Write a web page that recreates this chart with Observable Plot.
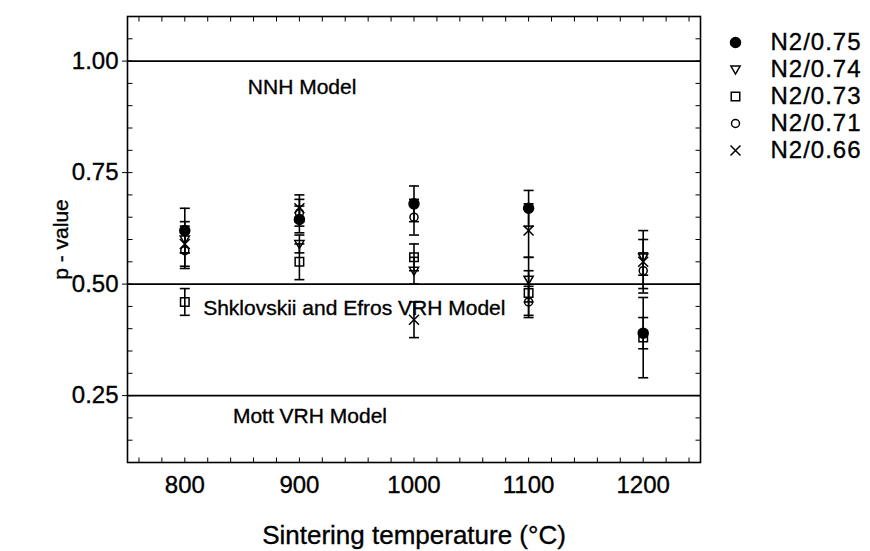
<!DOCTYPE html>
<html>
<head>
<meta charset="utf-8">
<script src="https://cdn.jsdelivr.net/npm/d3@7"></script>
<script src="https://cdn.jsdelivr.net/npm/@observablehq/plot@0.6"></script>
<style>
  html, body { margin: 0; padding: 0; background: #fff; }
  #wrap { position: relative; width: 870px; height: 551px; overflow: hidden; font-family: "Liberation Sans", Arial, sans-serif; }
  #legend { position: absolute; left: 720px; top: 0px; }
  svg { overflow: visible; }
  svg text { stroke: #000; stroke-width: 0.35px; }
  #legend text { letter-spacing: 1px; }
</style>
</head>
<body>
<div id="wrap"><div id="chart"></div><div id="legend"></div></div>
<script>
// ---- data ----
const temps = [800, 900, 1000, 1100, 1200];
const series = ["N2/0.75", "N2/0.74", "N2/0.73", "N2/0.71", "N2/0.66"];
const p075 = [0.62, 0.645, 0.68, 0.67, 0.39];
const e075 = [0.05, 0.03, 0.04, 0.04, 0.035];
const p074 = [0.60, 0.59, 0.53, 0.51, 0.56];
const e074 = [0.03, 0.02, 0.03, 0.05, 0.04];
const p073 = [0.46, 0.55, 0.56, 0.48, 0.38];
const e073 = [0.03, 0.04, 0.03, 0.05, 0.09];
const p071 = [0.575, 0.66, 0.65, 0.46, 0.53];
const e071 = [0.04, 0.03, 0.04, 0.035, 0.04];
const p066 = [0.59, 0.67, 0.42, 0.62, 0.55];
const e066 = [0.05, 0.03, 0.04, 0.06, 0.07];
const modelLines = [1.0, 0.5, 0.25];
const modelNames = ["NNH Model", "Shklovskii and Efros VRH Model", "Mott VRH Model"];
const modelLabelX = [855, 816, 842];
const modelLabelY = [0.941, 0.445, 0.203];
const xTicks = [800, 900, 1000, 1100, 1200];
const yTicks = [0.25, 0.50, 0.75, 1.00];
const xLabel = "Sintering temperature (\u00B0C)";
const yLabel = "p - value";

// ---- build table ----
const values = [p075, p074, p073, p071, p066];
const errors = [e075, e074, e073, e071, e066];
const rows = [];
series.forEach((s, i) => temps.forEach((t, j) => rows.push({series: s, t, p: values[i][j], e: errors[i][j]})));
const modelText = modelNames.map((n, i) => ({name: n, x: modelLabelX[i], y: modelLabelY[i]}));

// ---- symbols ----
const downTriangle = {draw(ctx, size) { const r = Math.sqrt(size / Math.PI); ctx.moveTo(-r, -r * 0.75); ctx.lineTo(r, -r * 0.75); ctx.lineTo(0, r); ctx.closePath(); }};
const cap = {draw(ctx, size) { const r = Math.sqrt(size / Math.PI); ctx.moveTo(-r, 0); ctx.lineTo(r, 0); }};
const tUp = {draw(ctx) { ctx.moveTo(0, 0); ctx.lineTo(0, -5); }};
const tDown = {draw(ctx) { ctx.moveTo(0, 0); ctx.lineTo(0, 5); }};
const tRight = {draw(ctx) { ctx.moveTo(0, 0); ctx.lineTo(5, 0); }};
const tLeft = {draw(ctx) { ctx.moveTo(0, 0); ctx.lineTo(-5, 0); }};
const symStyle = [
  {symbol: d3.symbolCircle, r: 5, fill: "black"},
  {symbol: downTriangle, r: 4.6, fill: "none"},
  {symbol: d3.symbolSquare, r: 4.8, fill: "none"},
  {symbol: d3.symbolCircle, r: 4, fill: "none"},
  {symbol: d3.symbolTimes, r: 4.6, fill: "none"}
];

const xDom = [750, 1250], yDom = [0.1, 1.1];
const xMinor = d3.range(760, 1250, 20);
const yMinor = d3.range(0.15, 1.1, 0.05);
const font = "'Liberation Sans', Arial, sans-serif";

const chart = Plot.plot({
  width: 870, height: 551,
  marginLeft: 127, marginRight: 170, marginTop: 16, marginBottom: 89,
  style: {fontFamily: font, fontSize: "24px", color: "#000", background: "white"},
  x: {domain: xDom},
  y: {domain: yDom},
  marks: [
    Plot.ruleY(modelLines, {stroke: "black", strokeWidth: 1.6}),
    Plot.text(modelText, {x: "x", y: "y", text: "name", textAnchor: "start", fontSize: 21, fill: "#000"}),
    Plot.ruleX(rows, {x: "t", y1: d => d.p - d.e, y2: d => d.p + d.e, stroke: "black", strokeWidth: 1.6}),
    Plot.dot(rows, {x: "t", y: d => d.p - d.e, symbol: cap, r: 5, stroke: "black", strokeWidth: 1.6}),
    Plot.dot(rows, {x: "t", y: d => d.p + d.e, symbol: cap, r: 5, stroke: "black", strokeWidth: 1.6}),
    ...series.map((s, i) => Plot.dot(rows.filter(d => d.series === s), {x: "t", y: "p", symbol: symStyle[i].symbol, r: symStyle[i].r, fill: symStyle[i].fill, stroke: "black", strokeWidth: 1.5})),
    Plot.dot(xMinor, {x: d => d, y: () => yDom[0], symbol: tUp, stroke: "black", strokeWidth: 1}),
    Plot.dot(xMinor, {x: d => d, y: () => yDom[1], symbol: tDown, stroke: "black", strokeWidth: 1}),
    Plot.dot(yMinor, {y: d => d, x: () => xDom[0], symbol: tRight, stroke: "black", strokeWidth: 1}),
    Plot.dot(yMinor, {y: d => d, x: () => xDom[1], symbol: tLeft, stroke: "black", strokeWidth: 1}),
    Plot.frame({stroke: "black", strokeWidth: 1.6}),
    Plot.axisX({ticks: xTicks, tickSize: 0, tickPadding: 13, tickFormat: d => String(d), label: null, fontSize: 24}),
    Plot.axisY({ticks: yTicks, tickSize: 5, tickPadding: 4, tickFormat: d3.format(".2f"), label: null, fontSize: 24}),
    Plot.text([xLabel], {frameAnchor: "bottom", text: d => d, dy: 73, textAnchor: "middle", lineAnchor: "middle", fontSize: 26, fill: "#000"}),
    Plot.text([yLabel], {frameAnchor: "left", text: d => d, dx: -66, rotate: -90, textAnchor: "middle", lineAnchor: "middle", fontSize: 21, fill: "#000"})
  ]
});
document.getElementById("chart").appendChild(chart);

// ---- legend ----
const legend = Plot.plot({
  width: 150, height: 175,
  margin: 0,
  style: {fontFamily: font, fontSize: "24px", color: "#000", background: "transparent"},
  x: {domain: [0, 1], range: [15, 50], axis: null},
  y: {type: "point", domain: series, range: [42, 150], padding: 0, axis: null},
  marks: [
    ...series.map((s, i) => Plot.dot([s], {x: () => 0, y: d => d, symbol: symStyle[i].symbol, r: symStyle[i].r, fill: symStyle[i].fill, stroke: "black", strokeWidth: 1.5})),
    Plot.text(series, {x: () => 1, y: d => d, text: d => d, textAnchor: "start", fontSize: 24, fill: "#000"})
  ]
});
document.getElementById("legend").appendChild(legend);
</script>
</body>
</html>
